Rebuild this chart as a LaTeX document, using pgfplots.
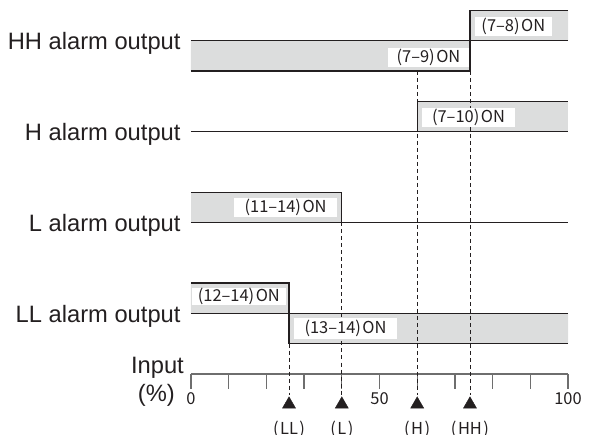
\documentclass[border=0pt]{standalone}
\usepackage{fontspec}
\setmainfont{Liberation Sans}
\newfontfamily\cjk{Noto Sans CJK JP}
\usepackage{pgfplots}
\pgfplotsset{compat=1.18}
\definecolor{ln}{HTML}{231F20}
\definecolor{fl}{HTML}{DCDDDD}
\definecolor{ax}{HTML}{6E6E6E}
\tikzset{
 lab/.style={fill=white, inner sep=0pt, minimum height=19bp, text=ln, font=\cjk\fontsize{16.5}{16}\selectfont},
 row/.style={anchor=base east, text=ln, font=\fontsize{23.8}{24}\selectfont},
 spn/.style={text=ln, font=\cjk\fontsize{16.5}{16}\selectfont},
}
\begin{document}
\begin{tikzpicture}
\useasboundingbox (-191bp,-61bp) rectangle (404bp,374bp);
\begin{axis}[anchor=origin, at={(0,0)}, x=3.77bp, y=30.3bp,
 xmin=0, xmax=100, ymin=0, ymax=12,
 axis x line*=bottom, axis y line=none, clip=false,
 xtick={0,10,...,100}, xticklabels={0,,,,,50,,,,,100},
 tick align=outside, major tick length=15bp,
 x axis line style={ax, line width=1.2bp},
 xtick style={ax, line width=1.2bp},
 xticklabel style={font=\cjk\fontsize{16.5}{16}\selectfont, text=ln},
 ytick=\empty,
]
% gray areas (ON regions)
\addplot[fill=fl, draw=none] coordinates {(0,11)(0,10)(74,10)(74,12)(100,12)(100,11)} -- cycle;
\addplot[fill=fl, draw=none] coordinates {(60,8)(60,9)(100,9)(100,8)} -- cycle;
\addplot[fill=fl, draw=none] coordinates {(0,5)(0,6)(40,6)(40,5)} -- cycle;
\addplot[fill=fl, draw=none] coordinates {(0,2)(0,3)(26,3)(26,1)(100,1)(100,2)} -- cycle;
% dashed set-point lines
\addplot[ln, line width=0.9bp, dash pattern=on 4bp off 3bp] coordinates {(26,1)(26,-0.69)};
\addplot[ln, line width=0.9bp, dash pattern=on 4bp off 3bp] coordinates {(40,5)(40,-0.69)};
\addplot[ln, line width=0.9bp, dash pattern=on 4bp off 3bp] coordinates {(60,10)(60,-0.69)};
\addplot[ln, line width=0.9bp, dash pattern=on 4bp off 3bp] coordinates {(74,10)(74,-0.69)};
% baselines
\addplot[ln, line width=1.3bp] coordinates {(0,11)(100,11)};
\addplot[ln, line width=1.3bp] coordinates {(0,8)(100,8)};
\addplot[ln, line width=1.3bp] coordinates {(0,5)(100,5)};
\addplot[ln, line width=1.3bp] coordinates {(0,2)(100,2)};
% output signals
\addplot[ln, line width=1.3bp] coordinates {(0,10)(74,10)(74,12)(100,12)};
\addplot[ln, line width=1.3bp] coordinates {(60,8)(60,9)(100,9)};
\addplot[ln, line width=1.3bp] coordinates {(0,6)(40,6)(40,5)};
\addplot[ln, line width=1.3bp] coordinates {(0,3)(26,3)(26,1)(100,1)};
% set-point markers
\addplot[only marks, mark=triangle*, mark size=7.5bp, ln] coordinates {(26,-1.0)(40,-1.0)(60,-1.0)(74,-1.0)};
% ON labels
\node[lab, minimum width=77bp] at (axis cs:85.5,11.47) {(7–8)\kern1.5bp ON};
\node[lab, minimum width=81bp] at (axis cs:63.0,10.46) {(7–9)\kern1.5bp ON};
\node[lab, minimum width=93bp] at (axis cs:73.6,8.47) {(7–10)\kern1.5bp ON};
\node[lab, minimum width=103bp] at (axis cs:25.1,5.50) {(11–14)\kern1.5bp ON};
\node[lab, minimum width=94bp, minimum height=16bp] at (axis cs:12.7,2.56) {(12–14)\kern1.5bp ON};
\node[lab, minimum width=103bp, minimum height=21bp] at (axis cs:41.0,1.50) {(13–14)\kern1.5bp ON};
% set-point names
\node[spn] at (axis cs:26,-1.82) {(\kern1.5bp LL\kern1.5bp)};
\node[spn] at (axis cs:40,-1.82) {(\kern1.5bp L\kern1.5bp)};
\node[spn] at (axis cs:60,-1.82) {(\kern1.5bp H\kern1.5bp)};
\node[spn] at (axis cs:74,-1.82) {(\kern1.5bp HH\kern1.5bp)};
% row labels
\node[row] at (axis cs:-1.85,10.70) {HH alarm output};
\node[row] at (axis cs:-1.85,7.70) {H alarm output};
\node[row] at (axis cs:-1.85,4.70) {L alarm output};
\node[row] at (axis cs:-1.85,1.70) {LL alarm output};
\node[text=ln, font=\fontsize{23.8}{24}\selectfont, anchor=base] at (axis cs:-8.9,0.03) {Input};
\node[text=ln, font=\fontsize{23.8}{24}\selectfont, anchor=base] at (axis cs:-9.2,-0.92) {(\%)};
\end{axis}
\end{tikzpicture}
\end{document}
